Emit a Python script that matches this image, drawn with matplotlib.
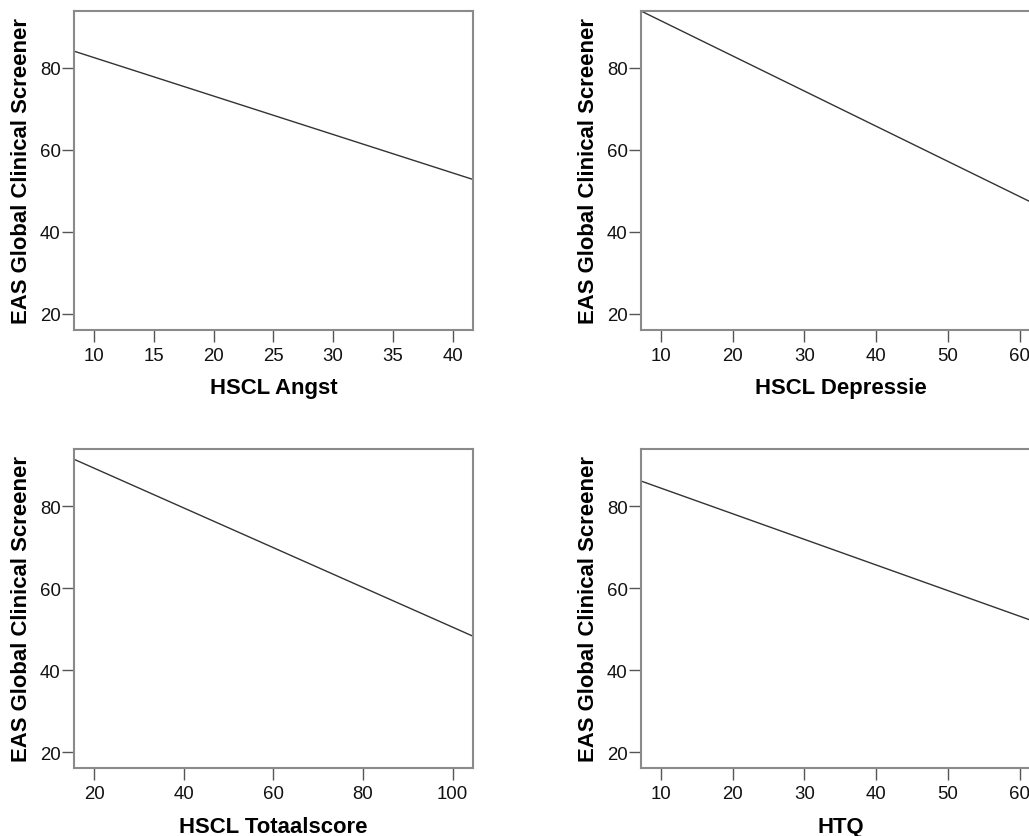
import matplotlib
matplotlib.use('Agg')
import matplotlib.pyplot as plt

plt.rcParams['font.family'] = ['Liberation Sans', 'DejaVu Sans']

# regression fit lines, one per panel (start/end of the x range and fitted y)
x_labels = ['HSCL Angst', 'HSCL Depressie', 'HSCL Totaalscore', 'HTQ']
y_label = 'EAS Global Clinical Screener'
x_start = [8.33, 7.26, 15.46, 7.26]
x_end = [41.7, 62.8, 104.55, 62.8]
y_start = [84.1, 93.9, 91.4, 86.1]
y_end = [52.8, 46.2, 48.3, 51.4]
x_ticks = [
  [10, 15, 20, 25, 30, 35, 40],
  [10, 20, 30, 40, 50, 60],
  [20, 40, 60, 80, 100],
  [10, 20, 30, 40, 50, 60],
  ]
y_ticks = [20, 40, 60, 80]
y_lim = (16.2, 93.9)

W, H = 1029, 837
fig = plt.figure(figsize=(W/100, H/100), dpi=100)

# axes boxes in pixels: left, top, width, height
boxes = [(74, 12, 399, 318.5), (641, 12, 399, 318.5),
         (74, 450, 399, 319), (641, 450, 399, 319)]

SPINE = '#8a8a8a'
for i, (l, t, w, h) in enumerate(boxes):
  ax = fig.add_axes([l/W, 1 - (t + h)/H, w/W, h/H])
  ax.plot([x_start[i], x_end[i]], [y_start[i], y_end[i]], '-', color='#333333', lw=1.0)
  ax.set_xlim(x_start[i], x_end[i])
  ax.set_ylim(*y_lim)
  ax.set_xticks(x_ticks[i])
  ax.set_yticks(y_ticks)
  for s in ax.spines.values():
    s.set_color(SPINE); s.set_linewidth(1.5)
  ax.tick_params(axis='both', direction='out', length=8.5, width=1.0, color='#555555',
                 labelsize=13.4, labelcolor='#111111')
  ax.tick_params(axis='x', pad=4)
  ax.tick_params(axis='y', pad=1)
  ax.set_xlabel(x_labels[i], fontsize=15.9, fontweight='bold', va='baseline')
  ax.xaxis.set_label_coords(0.5, -64/h)
  ax.set_ylabel(y_label, fontsize=15.9, fontweight='bold', va='baseline')
  ax.yaxis.set_label_coords(-46.5/w, 0.5)

fig.savefig('out.png', dpi=100)
